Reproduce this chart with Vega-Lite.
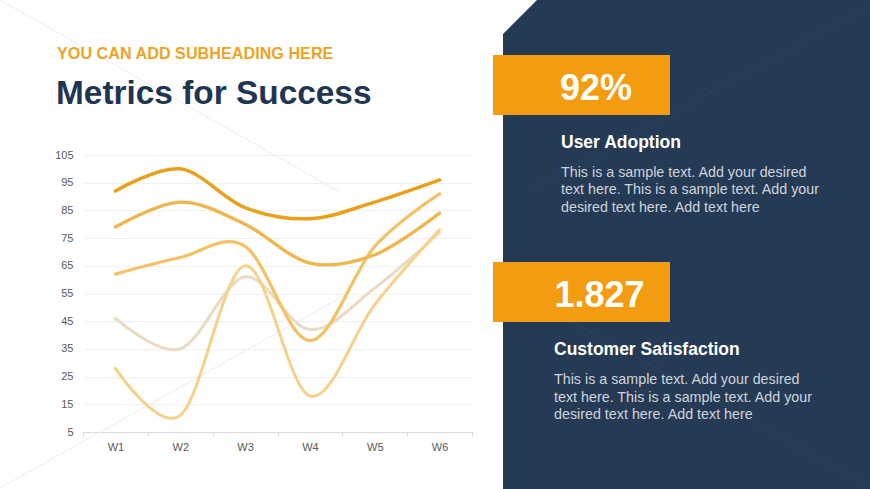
{
  "$schema": "https://vega.github.io/schema/vega-lite/v6.json",
  "width": 389,
  "height": 277,
  "autosize": "none",
  "padding": {"left": 83, "top": 155, "right": 398, "bottom": 57},
  "background": "white",
  "config": {"view": {"stroke": null}, "font": "Liberation Sans"},
  "datasets": {
    "cards": [
      {"card": "User Adoption", "metric": "92%", "body": ["This is a sample text. Add your desired", "text here. This is a sample text. Add your", "desired text here. Add text here"]},
      {"card": "Customer Satisfaction", "metric": "1.827", "body": ["This is a sample text. Add your desired", "text here. This is a sample text. Add your", "desired text here. Add text here"]}
    ]
  },
  "layer": [
    {
      "data": {"values": [{}]},
      "layer": [
        {
          "mark": {"type": "rule", "color": "#ececec", "strokeWidth": 1},
          "encoding": {
            "x": {"datum": 0, "type": "quantitative", "scale": {"domain": [0, 870], "range": [-83, 787], "nice": false, "zero": false}, "axis": null},
            "y": {"datum": 0, "type": "quantitative", "scale": {"domain": [0, 489], "range": [-155, 334], "nice": false, "zero": false}, "axis": null},
            "x2": {"datum": 340},
            "y2": {"datum": 192}
          }
        },
        {
          "mark": {"type": "rule", "color": "#ececec", "strokeWidth": 1},
          "encoding": {
            "x": {"datum": 0, "type": "quantitative"},
            "y": {"datum": 488, "type": "quantitative"},
            "x2": {"datum": 345},
            "y2": {"datum": 295}
          }
        },
        {
          "mark": {"type": "rect", "color": "#253a54"},
          "encoding": {
            "x": {"datum": 503, "type": "quantitative"},
            "x2": {"datum": 870},
            "y": {"datum": 0, "type": "quantitative"},
            "y2": {"datum": 489}
          }
        },
        {
          "mark": {"type": "point", "shape": "M-1,-1L1,-1L-1,1Z", "filled": true, "color": "white", "opacity": 1, "size": 1190, "strokeWidth": 0},
          "encoding": {
            "x": {"datum": 520, "type": "quantitative"},
            "y": {"datum": 17, "type": "quantitative"}
          }
        },
        {
          "mark": {"type": "rule", "color": "#2c4260", "strokeWidth": 1},
          "encoding": {
            "x": {"datum": 530, "type": "quantitative"},
            "y": {"datum": 190, "type": "quantitative"},
            "x2": {"datum": 870},
            "y2": {"datum": 6}
          }
        },
        {
          "mark": {"type": "rule", "color": "#2c4260", "strokeWidth": 1},
          "encoding": {
            "x": {"datum": 503, "type": "quantitative"},
            "y": {"datum": 283, "type": "quantitative"},
            "x2": {"datum": 870},
            "y2": {"datum": 487}
          }
        },
        {
          "mark": {"type": "text", "text": "YOU CAN ADD SUBHEADING HERE", "font": "Liberation Sans", "fontSize": 16.2, "fontWeight": "bold", "color": "#eba428", "align": "left", "baseline": "alphabetic"},
          "encoding": {
            "x": {"datum": 57, "type": "quantitative"},
            "y": {"datum": 59, "type": "quantitative"}
          }
        },
        {
          "mark": {"type": "text", "text": "Metrics for Success", "font": "Liberation Sans", "fontSize": 33.4, "fontWeight": "bold", "color": "#1f3552", "align": "left", "baseline": "alphabetic"},
          "encoding": {
            "x": {"datum": 56, "type": "quantitative"},
            "y": {"datum": 104, "type": "quantitative"}
          }
        }
      ]
    },
    {
      "data": {"values": [
        {"week": "W1", "series": "Series 4", "value": 46},
        {"week": "W2", "series": "Series 4", "value": 35},
        {"week": "W3", "series": "Series 4", "value": 61},
        {"week": "W4", "series": "Series 4", "value": 42},
        {"week": "W5", "series": "Series 4", "value": 57},
        {"week": "W6", "series": "Series 4", "value": 77},
        {"week": "W1", "series": "Series 5", "value": 28},
        {"week": "W2", "series": "Series 5", "value": 11},
        {"week": "W3", "series": "Series 5", "value": 65},
        {"week": "W4", "series": "Series 5", "value": 18},
        {"week": "W5", "series": "Series 5", "value": 51},
        {"week": "W6", "series": "Series 5", "value": 78},
        {"week": "W1", "series": "Series 3", "value": 62},
        {"week": "W2", "series": "Series 3", "value": 68},
        {"week": "W3", "series": "Series 3", "value": 72},
        {"week": "W4", "series": "Series 3", "value": 38},
        {"week": "W5", "series": "Series 3", "value": 72},
        {"week": "W6", "series": "Series 3", "value": 91},
        {"week": "W1", "series": "Series 2", "value": 79},
        {"week": "W2", "series": "Series 2", "value": 88},
        {"week": "W3", "series": "Series 2", "value": 80},
        {"week": "W4", "series": "Series 2", "value": 66},
        {"week": "W5", "series": "Series 2", "value": 69},
        {"week": "W6", "series": "Series 2", "value": 84},
        {"week": "W1", "series": "Series 1", "value": 92},
        {"week": "W2", "series": "Series 1", "value": 100},
        {"week": "W3", "series": "Series 1", "value": 86},
        {"week": "W4", "series": "Series 1", "value": 82},
        {"week": "W5", "series": "Series 1", "value": 88},
        {"week": "W6", "series": "Series 1", "value": 96}
      ]},
      "mark": {"type": "line", "interpolate": "cardinal", "strokeCap": "round"},
      "encoding": {
        "x": {
          "field": "week", "type": "ordinal", "bandPosition": 0.5,
          "scale": {"type": "band", "paddingInner": 0, "paddingOuter": 0},
          "axis": {"orient": "bottom", "title": null, "labelAngle": 0, "domainColor": "#d9d9d9", "tickColor": "#d9d9d9", "tickSize": 4, "tickBand": "extent", "labelPadding": 5, "labelFont": "Liberation Sans", "labelFontSize": 11, "labelColor": "#595959", "grid": false}
        },
        "y": {
          "field": "value", "type": "quantitative",
          "scale": {"domain": [5, 105], "nice": false, "zero": false},
          "axis": {"orient": "left", "title": null, "values": [5, 15, 25, 35, 45, 55, 65, 75, 85, 95, 105], "domain": false, "ticks": false, "labelPadding": 10, "grid": true, "gridColor": "#f0f0f0", "labelFont": "Liberation Sans", "labelFontSize": 11, "labelColor": "#595959"}
        },
        "color": {
          "field": "series", "type": "nominal", "legend": null,
          "scale": {"domain": ["Series 1", "Series 2", "Series 3", "Series 4", "Series 5"], "range": ["#e9a11b", "#efb64d", "#f1c266", "#eadcc4", "#f5d18b"]}
        },
        "strokeWidth": {
          "field": "series", "type": "nominal", "legend": null,
          "scale": {"domain": ["Series 1", "Series 2", "Series 3", "Series 4", "Series 5"], "range": [3.5, 3, 3, 3, 3]}
        }
      }
    },
    {
      "data": {"name": "cards"},
      "mark": {"type": "rect", "color": "#f39c12"},
      "encoding": {
        "x": {"datum": 493, "type": "quantitative", "scale": {"domain": [0, 870], "range": [-83, 787], "nice": false, "zero": false}, "axis": null},
        "x2": {"datum": 670},
        "y": {"field": "card", "type": "nominal", "axis": null, "scale": {"type": "band", "domain": ["User Adoption", "Customer Satisfaction"], "range": [-100, 167], "paddingInner": 0.7101, "paddingOuter": 0}}
      }
    },
    {
      "data": {"name": "cards"},
      "mark": {"type": "text", "font": "Liberation Sans", "fontSize": 36, "fontWeight": "bold", "color": "white", "align": "center", "baseline": "alphabetic"},
      "encoding": {
        "text": {"field": "metric"},
        "x": {"field": "card", "type": "nominal", "axis": null, "scale": {"type": "point", "domain": ["User Adoption", "Customer Satisfaction"], "range": [513, 516.5], "padding": 0}},
        "y": {"field": "card", "type": "nominal", "axis": null, "scale": {"type": "point", "domain": ["User Adoption", "Customer Satisfaction"], "range": [-55, 151.7], "padding": 0}}
      }
    },
    {
      "data": {"name": "cards"},
      "mark": {"type": "text", "font": "Liberation Sans", "fontSize": 17.5, "fontWeight": "bold", "color": "white", "align": "left", "baseline": "alphabetic"},
      "encoding": {
        "text": {"field": "card"},
        "x": {"field": "card", "type": "nominal", "axis": null, "scale": {"type": "point", "domain": ["User Adoption", "Customer Satisfaction"], "range": [478, 471], "padding": 0}},
        "y": {"field": "card", "type": "nominal", "axis": null, "scale": {"type": "point", "domain": ["User Adoption", "Customer Satisfaction"], "range": [-7.3, 200], "padding": 0}}
      }
    },
    {
      "data": {"name": "cards"},
      "mark": {"type": "text", "font": "Liberation Sans", "fontSize": 14.3, "lineHeight": 17.5, "color": "#cfd4dc", "align": "left", "baseline": "alphabetic"},
      "encoding": {
        "text": {"field": "body"},
        "x": {"field": "card", "type": "nominal", "axis": null, "scale": {"type": "point", "domain": ["User Adoption", "Customer Satisfaction"], "range": [478, 471], "padding": 0}},
        "y": {"field": "card", "type": "nominal", "axis": null, "scale": {"type": "point", "domain": ["User Adoption", "Customer Satisfaction"], "range": [21.7, 229], "padding": 0}}
      }
    }
  ],
  "resolve": {"scale": {"x": "independent", "y": "independent", "color": "independent", "strokeWidth": "independent"}}
}
